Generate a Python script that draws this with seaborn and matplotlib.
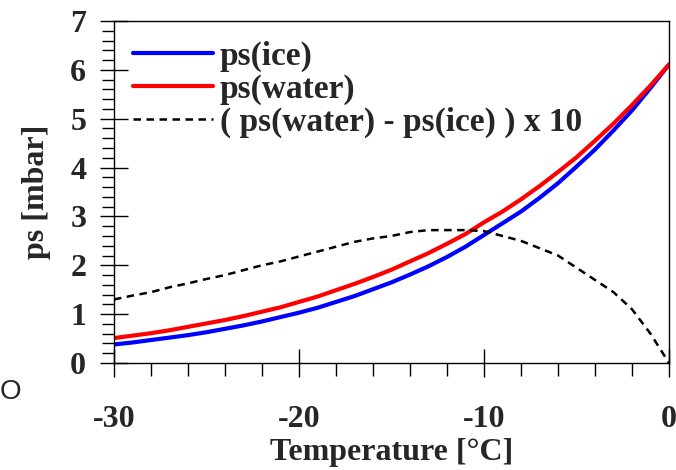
import numpy as np
import pandas as pd
import matplotlib
matplotlib.use("Agg")
import matplotlib.pyplot as plt
from matplotlib.ticker import MultipleLocator
import seaborn as sns

temperature = [-30, -29, -28, -27, -26, -25, -24, -23, -22, -21, -20,
               -19, -18, -17, -16, -15, -14, -13, -12, -11, -10,
               -9, -8, -7, -6, -5, -4, -3, -2, -1, 0]
ps_ice = [0.38, 0.42, 0.47, 0.52, 0.57, 0.63, 0.70, 0.77, 0.85, 0.94, 1.03,
          1.13, 1.25, 1.37, 1.51, 1.65, 1.81, 1.98, 2.17, 2.38, 2.62,
          2.86, 3.10, 3.38, 3.68, 4.02, 4.37, 4.76, 5.17, 5.63, 6.11]
ps_water = [0.51, 0.56, 0.61, 0.67, 0.74, 0.81, 0.88, 0.96, 1.05, 1.14, 1.25,
            1.36, 1.49, 1.62, 1.76, 1.91, 2.08, 2.25, 2.44, 2.64, 2.88,
            3.10, 3.35, 3.62, 3.91, 4.21, 4.55, 4.90, 5.28, 5.68, 6.11]
diff_x10 = [1.30, 1.38, 1.45, 1.55, 1.63, 1.72, 1.80, 1.90, 2.00, 2.08, 2.18,
            2.28, 2.38, 2.48, 2.55, 2.60, 2.68, 2.72, 2.72, 2.72, 2.70,
            2.60, 2.50, 2.35, 2.20, 1.95, 1.70, 1.45, 1.10, 0.60, 0.00]

labels = ["ps(ice)", "ps(water)", "( ps(water) - ps(ice) ) x 10"]

sns.set_style("white")
plt.rcParams['font.family'] = ['Liberation Serif', 'DejaVu Serif']
plt.rcParams['font.weight'] = 'bold'
plt.rcParams['axes.unicode_minus'] = False

df = pd.DataFrame({"T": temperature, "ice": ps_ice, "water": ps_water, "diff": diff_x10})

fig = plt.figure(figsize=(6.76, 4.70), dpi=100)
ax = fig.add_axes([114/676, 1-363/470, 555/676, 342/470])

sns.lineplot(data=df, x="T", y="ice", ax=ax, color="#0000ff", lw=3, label=labels[0])
sns.lineplot(data=df, x="T", y="water", ax=ax, color="#ff0000", lw=3, label=labels[1])
sns.lineplot(data=df, x="T", y="diff", ax=ax, color="black", lw=1.8,
             linestyle=(0, (3, 2.2)), label=labels[2])

ax.set_xlim(-30, 0)
ax.set_ylim(0, 7)
ax.xaxis.set_major_locator(MultipleLocator(10))
ax.xaxis.set_minor_locator(MultipleLocator(2))
ax.yaxis.set_major_locator(MultipleLocator(1))
ax.yaxis.set_minor_locator(MultipleLocator(0.2))
ax.tick_params(axis='both', which='major', direction='inout', length=20, width=1,
               labelsize=23, color='black')
ax.tick_params(axis='both', which='minor', direction='out', length=9, width=1, color='black')
ax.tick_params(axis='x', which='major', pad=20)
ax.tick_params(axis='y', which='major', pad=10)
ax.tick_params(left=True, bottom=True, which='both')
for s in ax.spines.values():
    s.set_color('black')
    s.set_linewidth(1)

ax.set_xlabel("Temperature [°C]", fontsize=23, fontweight='bold', labelpad=3)
ax.set_ylabel("ps [mbar]", fontsize=23, fontweight='bold', labelpad=14)

leg = ax.legend(loc='upper left', bbox_to_anchor=(0.034, 0.942), frameon=False,
                fontsize=24, handlelength=2.4, handletextpad=0.2,
                labelspacing=0.05, borderaxespad=0, borderpad=0)

fig.text(0.0, 1-392/470, "O", fontsize=20, family='Liberation Sans',
         fontweight='normal', ha='left', va='center')

fig.savefig("out.png", dpi=100)
